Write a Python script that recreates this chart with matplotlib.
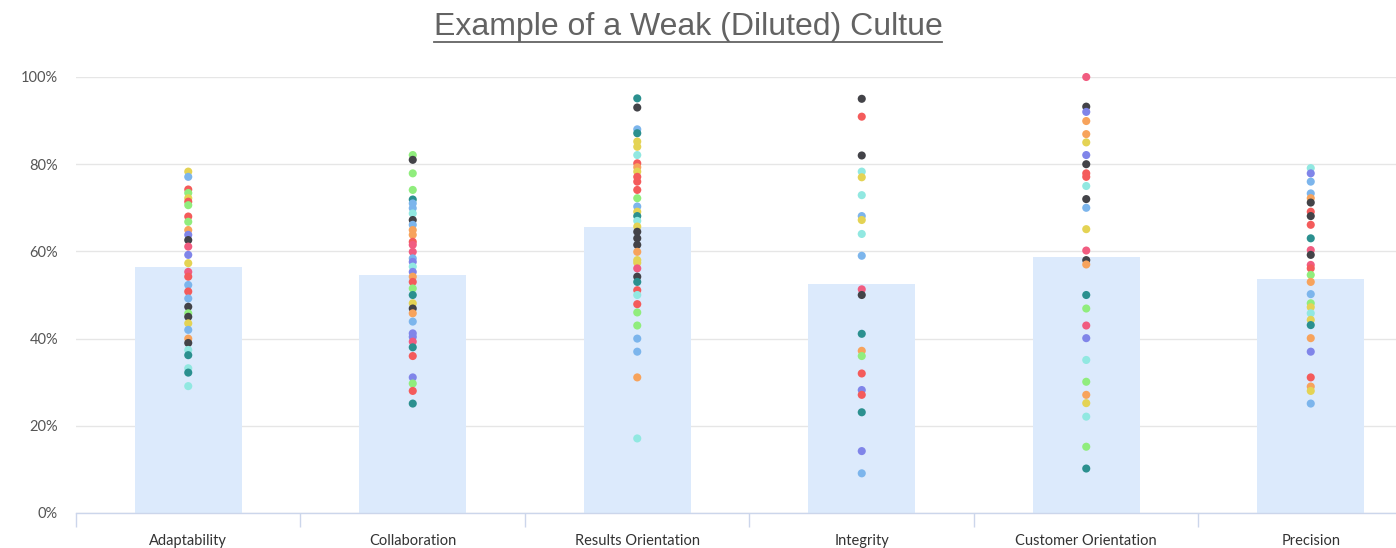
import matplotlib.pyplot as plt
from matplotlib.lines import Line2D

categories = ['Adaptability', 'Collaboration', 'Results Orientation',
              'Integrity', 'Customer Orientation', 'Precision']
averages = [56.4, 54.6, 65.6, 52.5, 58.7, 53.7]

# individual scores per competency, with the colour code of each respondent
adaptability = [78.3, 77.1, 74.2, 73.4, 72.2, 71.4, 70.6, 68.0, 66.8, 64.9, 63.8,
                62.6, 61.1, 59.2, 57.3, 55.3, 54.2, 52.3, 50.8, 49.2, 47.3, 45.8,
                45.0, 43.5, 42.0, 40.0, 39.0, 37.4, 36.2, 33.2, 32.2, 29.1]
adaptability_c = 'y b r g y r g r g o p k m p y m r b r b k g k y b o k c t c t c'

collaboration = [82.1, 81.0, 77.9, 74.1, 71.9, 71.0, 69.9, 68.7, 67.2, 66.1, 64.9,
                 63.8, 62.2, 61.5, 59.9, 58.4, 57.6, 56.5, 55.3, 54.2, 53.0, 51.5,
                 50.0, 48.1, 46.9, 45.8, 43.9, 41.2, 40.4, 39.3, 38.0, 36.0, 31.1,
                 29.7, 28.0, 25.1]
collaboration_c = 'g k g g t b b c k b o o r m m b p c p o r g t y k o b p p m t r p g r t'

results = [95.1, 93.0, 88.0, 87.1, 85.2, 84.0, 82.1, 80.2, 79.3, 78.3, 77.1, 76.0,
           74.1, 72.2, 70.3, 69.1, 68.1, 67.0, 65.7, 64.5, 63.0, 61.5, 59.9, 58.0,
           57.4, 56.1, 54.2, 53.0, 51.1, 50.0, 47.9, 46.0, 43.0, 40.0, 37.0, 31.1,
           17.1]
results_c = 't k b t y y c r o y r r r g b y t c y k k k o y y m k t r c r g g b b o c'

integrity = [95.0, 90.9, 82.0, 78.3, 77.0, 72.9, 68.1, 67.2, 64.0, 59.0, 51.3, 50.0,
             41.1, 37.2, 36.0, 32.0, 28.2, 27.1, 23.1, 14.2, 9.1]
integrity_c = 'k r k c y c b y c b m k t o g r p r t p b'

customer = [100.0, 93.2, 92.0, 89.9, 86.9, 85.0, 82.1, 80.0, 77.9, 77.1, 75.0, 72.0,
            70.0, 65.1, 60.2, 58.0, 57.0, 50.0, 46.9, 43.0, 40.1, 35.1, 30.1, 27.1,
            25.2, 22.1, 15.2, 10.2]
customer_c = 'm k p o o y p k r r c k b y m k o t g m p c g o y c g t'

precision = [79.1, 77.9, 76.0, 73.3, 72.2, 71.2, 69.1, 68.1, 66.1, 63.0, 60.3, 59.2,
             56.9, 56.1, 54.6, 53.0, 50.2, 48.1, 47.2, 45.8, 44.3, 43.1, 40.1, 37.0,
             31.1, 29.0, 28.0, 25.1]
precision_c = 'c p b b o k r k r t m k m r g o b g y c y t o p r o y b'

yticks = [0, 20, 40, 60, 80, 100]

palette = {'b': '#7cb5ec', 'k': '#434348', 'g': '#90ed7d', 'o': '#f7a35c',
           'p': '#8085e9', 'm': '#f15c80', 'y': '#e4d354', 't': '#2b908f',
           'r': '#f45b5b', 'c': '#91e8e1'}

scores = [adaptability, collaboration, results, integrity, customer, precision]
codes = [adaptability_c, collaboration_c, results_c, integrity_c, customer_c, precision_c]

fig = plt.figure(figsize=(13.96, 5.48), dpi=100)
ax = fig.add_axes([76 / 1396, 35 / 548, 1347 / 1396, 436 / 548])

ax.bar(range(len(categories)), averages, width=0.475, color='#dceafc', zorder=1)

for i, (vals, cc) in enumerate(zip(scores, codes)):
    cols = [palette[c] for c in cc.split()]
    ax.scatter([i] * len(vals), vals, s=34, c=cols, linewidths=0,
               zorder=3, clip_on=False)

ax.set_xlim(-0.5, len(categories) - 0.5)
ax.set_ylim(0, 100)
ax.set_yticks(yticks)
ax.set_yticklabels([f'{t}%' for t in yticks])
ax.set_xticks(range(len(categories)))
ax.set_xticklabels(categories)
ax.set_xticks([i - 0.5 for i in range(len(categories) + 1)], minor=True)

ax.grid(axis='y', color='#e6e6e6', linewidth=1, zorder=0)
ax.set_axisbelow(True)
for s in ['top', 'right', 'left']:
    ax.spines[s].set_visible(False)
ax.spines['bottom'].set_color('#ccd6eb')
ax.spines['bottom'].set_linewidth(1)

ax.tick_params(axis='x', which='major', length=0, pad=15,
               labelsize=10.5, labelcolor='#333333')
ax.tick_params(axis='x', which='minor', length=10, width=1, color='#ccd6eb')
ax.tick_params(axis='y', length=0, pad=13, labelsize=10.5, labelcolor='#555555')
for lab in ax.get_xticklabels() + ax.get_yticklabels():
    lab.set_fontfamily(['Lato', 'DejaVu Sans'])

title = fig.text(688 / 1396, 1 - 27 / 548, 'Example of a Weak (Diluted) Cultue',
                 ha='center', va='center', fontsize=23, color='#636363',
                 fontfamily=['Liberation Sans', 'DejaVu Sans'])

# underline the heading
fig.canvas.draw()
bb = title.get_window_extent().transformed(fig.transFigure.inverted())
uy = 1 - 41.5 / 548
fig.add_artist(Line2D([bb.x0, bb.x1], [uy, uy], color='#636363',
                      linewidth=1.3, transform=fig.transFigure))

fig.savefig('out.png', dpi=100)
